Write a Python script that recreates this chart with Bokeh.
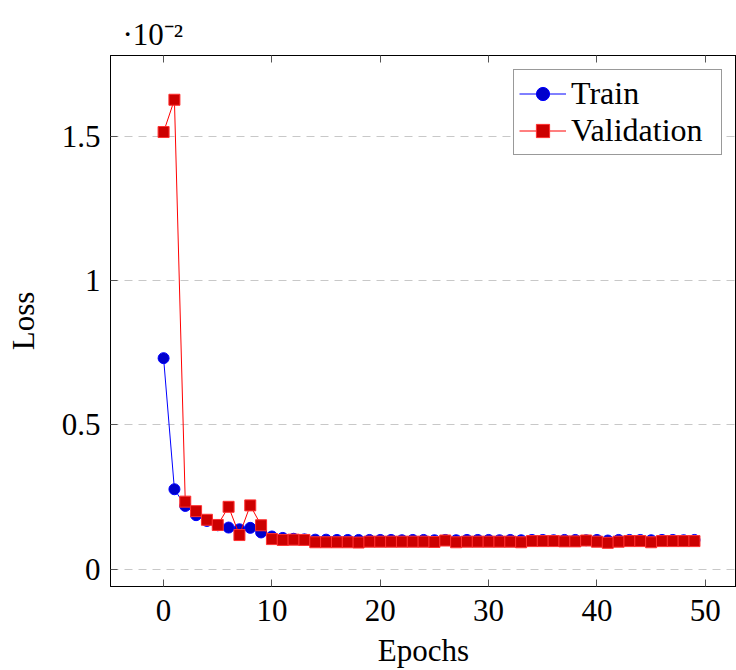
from bokeh.plotting import figure
from bokeh.models import (ColumnDataSource, LinearAxis, FixedTicker, Range1d,
                          Title, Legend, LegendItem, CustomJSTickFormatter)
from bokeh.embed import file_html
from bokeh.resources import INLINE

# ---- data (loss values in units of 10^-2) ----
epochs = list(range(50))
train_loss = [0.732, 0.277, 0.219, 0.187, 0.167, 0.152, 0.144, 0.138, 0.143, 0.127,
              0.113, 0.108, 0.105, 0.103, 0.102, 0.102, 0.101, 0.101, 0.101, 0.101,
              0.101, 0.101, 0.100, 0.101, 0.101, 0.100, 0.101, 0.100, 0.101, 0.101,
              0.101, 0.100, 0.101, 0.100, 0.101, 0.101, 0.100, 0.101, 0.101, 0.100,
              0.101, 0.099, 0.101, 0.101, 0.101, 0.100, 0.101, 0.101, 0.100, 0.101]
val_loss = [1.517, 1.629, 0.234, 0.201, 0.171, 0.153, 0.216, 0.118, 0.221, 0.152,
            0.104, 0.101, 0.102, 0.101, 0.093, 0.093, 0.093, 0.093, 0.092, 0.095,
            0.095, 0.095, 0.095, 0.095, 0.095, 0.094, 0.099, 0.093, 0.095, 0.095,
            0.095, 0.095, 0.095, 0.093, 0.097, 0.097, 0.097, 0.096, 0.096, 0.099,
            0.095, 0.091, 0.095, 0.097, 0.097, 0.093, 0.097, 0.097, 0.097, 0.097]
x_ticks = [0, 10, 20, 30, 40, 50]
y_ticks = [0, 0.5, 1, 1.5]
y_tick_labels = {0: "0", 0.5: "0.5", 1: "1", 1.5: "1.5"}
scale_text = "·10⁻²"

FONT = "Liberation Serif"
FS = "31px"

src = ColumnDataSource(dict(epoch=epochs, train=train_loss, val=val_loss))

p = figure(width=736, height=670, output_backend="svg", toolbar_location=None,
           x_range=Range1d(-4.9, 52.88), y_range=Range1d(-0.0606, 1.7826),
           min_border_left=110, min_border_right=0, min_border_top=55,
           min_border_bottom=82, x_axis_label="Epochs", y_axis_label="Loss")

p.outline_line_color = "black"
p.outline_line_width = 1
p.background_fill_color = "white"
p.border_fill_color = "white"

# grid
p.xgrid.visible = False
p.ygrid.ticker = FixedTicker(ticks=y_ticks)
p.ygrid.grid_line_color = "#c8c8c8"
p.ygrid.grid_line_dash = "8 6"
p.ygrid.grid_line_width = 1

# axes
for ax in (p.xaxis[0], p.yaxis[0]):
    ax.major_tick_in = 7
    ax.major_tick_out = 0
    ax.minor_tick_in = 0
    ax.minor_tick_out = 0
    ax.axis_line_color = "black"
    ax.major_tick_line_color = "#555555"
    ax.major_label_text_font = FONT
    ax.major_label_text_font_size = FS
    ax.major_label_text_color = "black"
    ax.axis_label_text_font = FONT
    ax.axis_label_text_font_size = FS
    ax.axis_label_text_font_style = "normal"
    ax.axis_label_text_color = "black"

p.xaxis[0].ticker = FixedTicker(ticks=x_ticks)
p.xaxis[0].major_label_standoff = 13
p.xaxis[0].axis_label_standoff = 9
p.yaxis[0].ticker = FixedTicker(ticks=y_ticks)
p.yaxis[0].major_label_overrides = y_tick_labels
p.yaxis[0].major_label_standoff = 10
p.yaxis[0].axis_label_standoff = 18

top_axis = LinearAxis(ticker=FixedTicker(ticks=x_ticks), major_tick_in=7,
                      major_tick_out=0, minor_tick_in=0, minor_tick_out=0,
                      major_label_standoff=0,
                      formatter=CustomJSTickFormatter(code="return ''"),
                      axis_line_color="black", major_tick_line_color="#555555")
p.add_layout(top_axis, "above")

# scale label  ·10^-2
p.add_layout(Title(text=scale_text, align="left", offset=12, standoff=8,
                   text_font=FONT, text_font_size=FS, text_font_style="normal",
                   text_color="black"), "above")

# data
r_train = p.line("epoch", "train", source=src, line_color="#0000ff", line_width=1)
s_train = p.scatter("epoch", "train", source=src, marker="circle", size=11,
                    fill_color="#0000cc", line_color="#0000ff", line_width=1)
r_val = p.line("epoch", "val", source=src, line_color="#ff0000", line_width=1)
s_val = p.scatter("epoch", "val", source=src, marker="square", size=11,
                  fill_color="#cc0000", line_color="#ff3030", line_width=1)

legend = Legend(items=[LegendItem(label="Train", renderers=[r_train, s_train]),
                       LegendItem(label="Validation", renderers=[r_val, s_val])],
                location=(403, 431))
legend.label_text_font = FONT
legend.label_text_font_size = "32px"
legend.label_text_color = "black"
legend.glyph_width = 47
legend.glyph_height = 33
legend.label_height = 33
legend.label_width = 145
legend.label_standoff = 5
legend.spacing = 0
legend.padding = 5
legend.margin = 0
legend.border_line_color = "#333333"
legend.border_line_width = 1
legend.background_fill_alpha = 1
p.add_layout(legend, "center")

open("out.html", "w").write(file_html(p, INLINE))
